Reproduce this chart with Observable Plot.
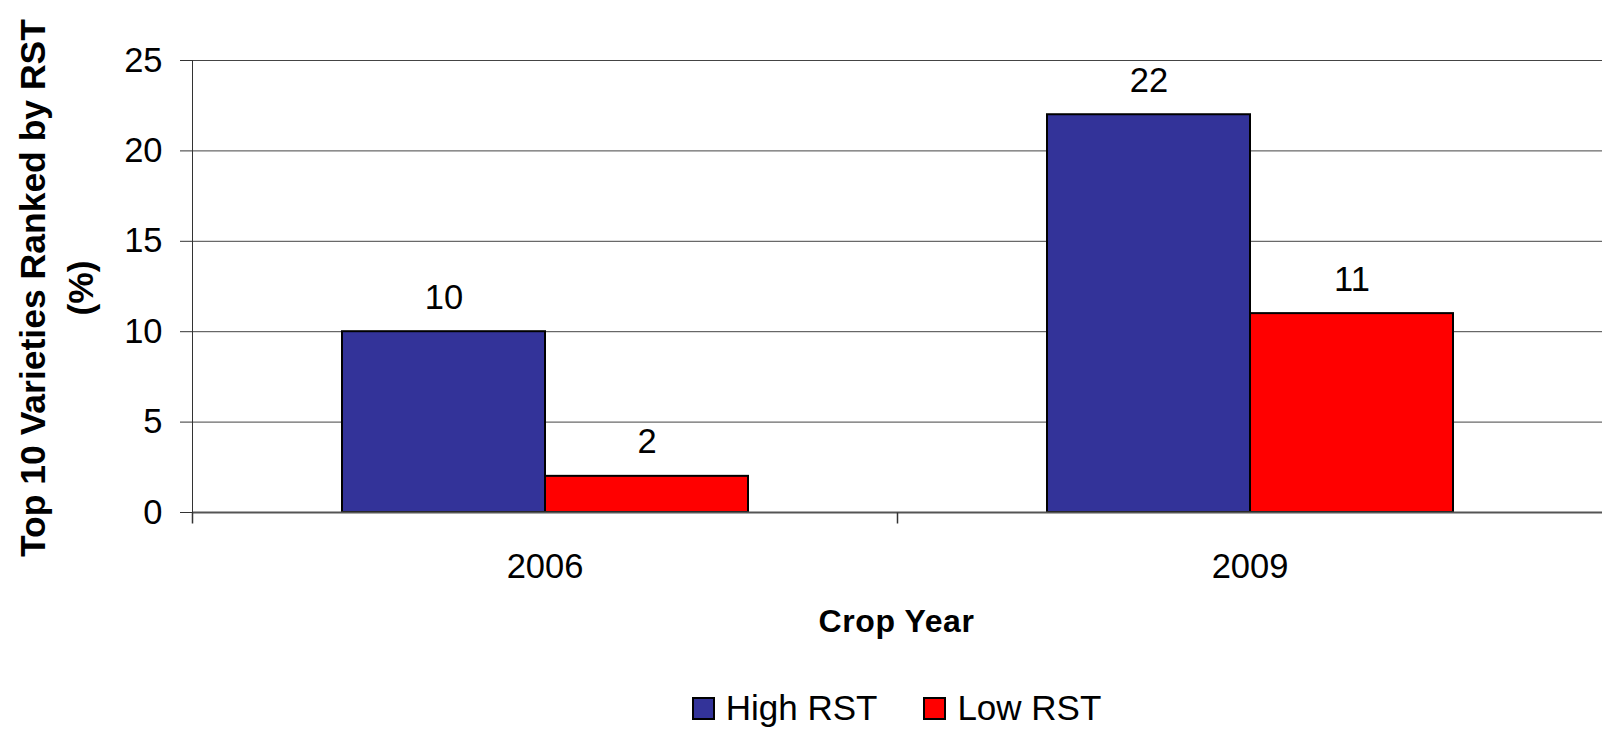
<!DOCTYPE html>
<html>
<head>
<meta charset="utf-8">
<script src="https://cdn.jsdelivr.net/npm/d3@7"></script>
<script src="https://cdn.jsdelivr.net/npm/@observablehq/plot@0.6"></script>
<style>
  html, body { margin: 0; padding: 0; background: #fff; }
  body { font-family: "Liberation Sans", Arial, sans-serif; color: #000; }
  #wrap { position: relative; width: 1602px; height: 732px; }
  #ytitle {
    position: absolute; left: 57px; top: 288px; width: 640px;
    transform: translate(-50%, -50%) rotate(-90deg);
    text-align: center; font-weight: bold; font-size: 35.5px; line-height: 48px;
    white-space: nowrap;
  }
  #xtitle {
    position: absolute; left: 191px; width: 1411px; top: 602px;
    text-align: center; font-weight: bold; font-size: 32px; line-height: 38px;
    letter-spacing: 0.6px;
  }
  #legend {
    position: absolute; left: 191px; width: 1411px; top: 688px; height: 40px;
    display: flex; justify-content: center; align-items: center; font-size: 35px;
  }
  .item { display: flex; align-items: center; margin: 0 23px; }
  .sw { width: 19px; height: 19px; border: 2px solid #000; margin-right: 11px; }
</style>
</head>
<body>
<div id="wrap">
  <div id="chart"></div>
  <div id="ytitle">Top 10 Varieties Ranked by RST<br>(%)</div>
  <div id="xtitle">Crop Year</div>
  <div id="legend"></div>
</div>
<script>
const years = ["2006", "2009"];
const seriesNames = ["High RST", "Low RST"];
const highValues = [10, 22];
const lowValues = [2, 11];
const yTicks = [0, 5, 10, 15, 20, 25];
const colors = ["#333399", "#FF0000"];

const data = years.flatMap((yr, i) => [
  {year: yr, series: seriesNames[0], value: highValues[i]},
  {year: yr, series: seriesNames[1], value: lowValues[i]}
]);

const tickSym = {draw(ctx) { ctx.moveTo(0, 0); ctx.lineTo(0, 11); }};

const chart = Plot.plot({
  width: 1602, height: 600,
  marginTop: 60, marginBottom: 88, marginLeft: 191, marginRight: 0,
  style: {fontFamily: "'Liberation Sans', Arial, sans-serif", fontSize: "34.5px", color: "#000", background: "#fff", overflow: "visible"},
  fx: {domain: years, padding: 0, label: null},
  x: {domain: seriesNames, paddingInner: 0, paddingOuter: 0.729, axis: null},
  y: {domain: [0, 25], label: null},
  color: {domain: seriesNames, range: colors},
  marks: [
    Plot.gridY(yTicks, {stroke: "#444", strokeOpacity: 1, strokeWidth: 1}),
    Plot.barY(data, {fx: "year", x: "series", y: "value", fill: "series", stroke: "#000", strokeWidth: 2}),
    Plot.ruleY([0], {stroke: "#555", strokeWidth: 2}),
    Plot.frame({anchor: "left", facetAnchor: "left", stroke: "#333"}),
    Plot.dot(years, {fx: d => d, frameAnchor: "bottom-left", symbol: tickSym, stroke: "#333", fill: "none"}),
    Plot.axisY(yTicks, {anchor: "left", tickSize: 12, tickPadding: 18, label: null, stroke: "#333"}),
    Plot.axisFx({anchor: "bottom", tickSize: 0, tickPadding: 41, label: null}),
    Plot.text(data, {fx: "year", x: "series", y: "value", text: d => String(d.value), dy: -34, fontSize: 34.5})
  ]
});
document.getElementById("chart").appendChild(chart);

const legend = document.getElementById("legend");
seriesNames.forEach((name, i) => {
  const item = document.createElement("div");
  item.className = "item";
  const sw = document.createElement("div");
  sw.className = "sw";
  sw.style.background = colors[i];
  const label = document.createElement("span");
  label.textContent = name;
  item.appendChild(sw);
  item.appendChild(label);
  legend.appendChild(item);
});
</script>
</body>
</html>
